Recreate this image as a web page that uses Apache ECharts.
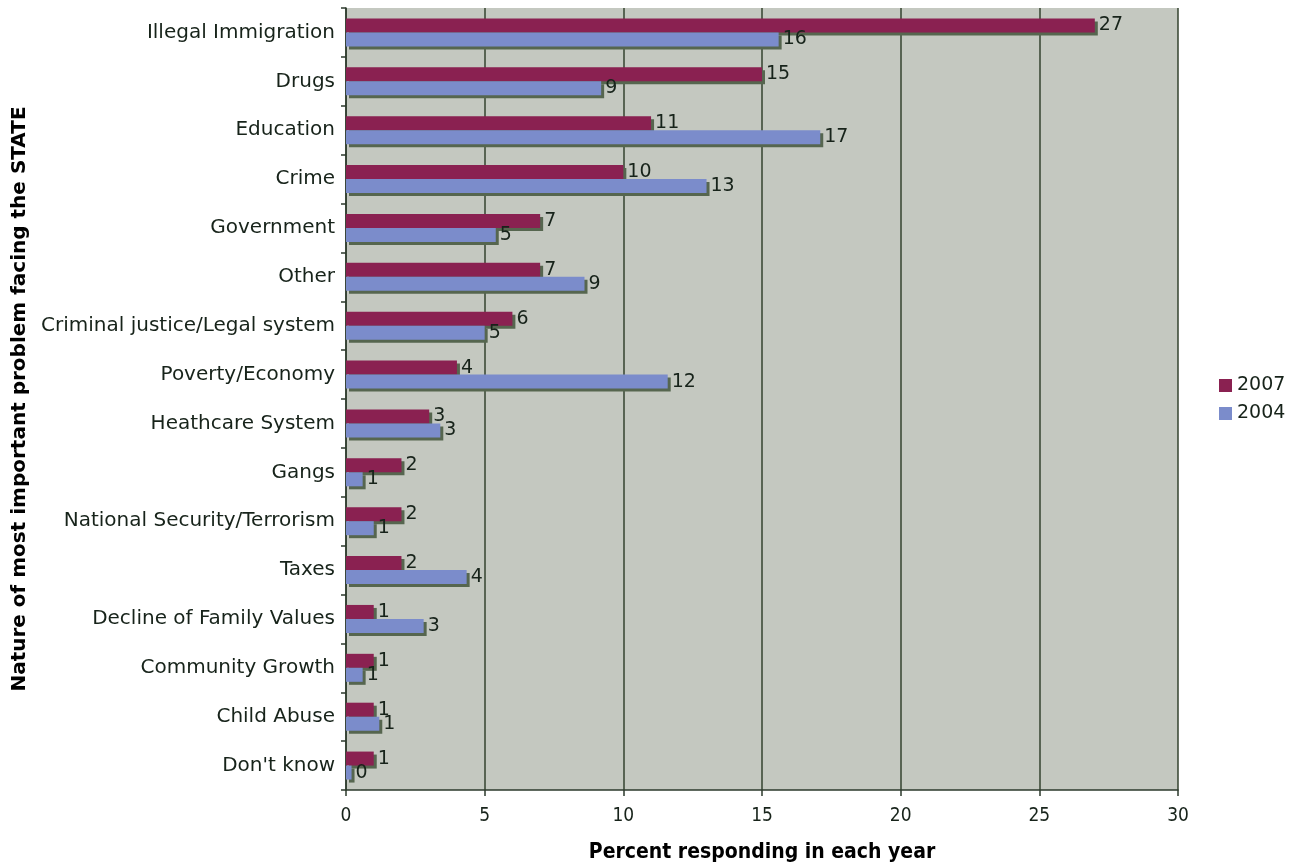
<!DOCTYPE html>
<html>
<head>
<meta charset="utf-8">
<script src="https://cdn.jsdelivr.net/npm/echarts@6/dist/echarts.min.js"></script>
<style>
  html, body { margin: 0; padding: 0; background: #ffffff; }
  #chart { width: 1297px; height: 865px; }
</style>
</head>
<body>
<div id="chart"></div>
<script>
// Most important problem facing the state, percent responding, 2007 vs 2004
const categories = [
  'Illegal Immigration', 'Drugs', 'Education', 'Crime', 'Government', 'Other',
  'Criminal justice/Legal system', 'Poverty/Economy', 'Heathcare System', 'Gangs',
  'National Security/Terrorism', 'Taxes', 'Decline of Family Values',
  'Community Growth', 'Child Abuse', "Don't know"
];
const values2007 = [27.0, 15.0, 11.0, 10.0, 7.0, 7.0, 6.0, 4.0, 3.0, 2.0, 2.0, 2.0, 1.0, 1.0, 1.0, 1.0];
const values2004 = [15.6, 9.2, 17.1, 13.0, 5.4, 8.6, 5.0, 11.6, 3.4, 0.6, 1.0, 4.35, 2.8, 0.6, 1.2, 0.2];
const xTicks = [0, 5, 10, 15, 20, 25, 30];

const FONT = 'DejaVu Sans';
const NARROW = '"DejaVu Sans Condensed", "Liberation Sans Narrow", "DejaVu Sans"';
const TEXT = '#17231a';

function barSeries(name, data, color) {
  return {
    name: name,
    type: 'bar',
    data: data,
    barWidth: 14,
    barGap: '0%',
    itemStyle: {
      color: color,
      shadowColor: '#56664f',
      shadowBlur: 0,
      shadowOffsetX: 3,
      shadowOffsetY: 3
    },
    label: {
      show: true,
      position: 'right',
      distance: 4,
      fontFamily: FONT,
      fontSize: 19,
      color: TEXT,
      formatter: p => String(Math.round(p.value))
    }
  };
}

const chart = echarts.init(document.getElementById('chart'), null, { renderer: 'canvas' });
chart.setOption({
  animation: false,
  backgroundColor: '#ffffff',
  textStyle: { fontFamily: FONT },
  grid: {
    left: 346, right: 119, top: 8, bottom: 75,
    containLabel: false,
    outerBoundsMode: 'none',
    show: true, backgroundColor: '#c4c8c0', borderWidth: 0
  },
  legend: {
    orient: 'vertical',
    left: 1214, top: 371,
    itemWidth: 13, itemHeight: 13, itemGap: 9,
    icon: 'rect',
    textStyle: { fontFamily: FONT, fontSize: 19, color: TEXT },
    data: ['2007', '2004']
  },
  xAxis: {
    type: 'value',
    min: xTicks[0], max: xTicks[xTicks.length - 1], interval: 5,
    name: 'Percent responding in each year',
    nameLocation: 'middle', nameGap: 52,
    nameTextStyle: { fontFamily: NARROW, fontSize: 21, fontWeight: 'bold', color: '#000' },
    axisLine: { show: true, lineStyle: { color: '#2c3a2c', width: 1.5 } },
    axisTick: { show: true, length: 6, lineStyle: { color: '#2c3a2c', width: 1.5 } },
    axisLabel: { fontFamily: NARROW, fontSize: 19, color: TEXT, margin: 17 },
    splitLine: { show: true, lineStyle: { color: '#34432f', width: 1.5 } }
  },
  yAxis: {
    type: 'category',
    data: categories,
    inverse: true,
    name: 'Nature of most important problem facing the STATE',
    nameLocation: 'middle', nameGap: 315, nameRotate: 90,
    nameTextStyle: { fontFamily: FONT, fontSize: 20, fontWeight: 'bold', color: '#000' },
    axisLine: { show: true, lineStyle: { color: '#2c3a2c', width: 1.5 } },
    axisTick: { show: true, length: 5, inside: false, lineStyle: { color: '#2c3a2c', width: 1.5 } },
    axisLabel: { fontFamily: FONT, fontSize: 20, color: TEXT, margin: 11 },
    splitLine: { show: false }
  },
  series: [
    barSeries('2007', values2007, '#8a2151'),
    barSeries('2004', values2004, '#7b8ccb')
  ]
});
</script>
</body>
</html>
